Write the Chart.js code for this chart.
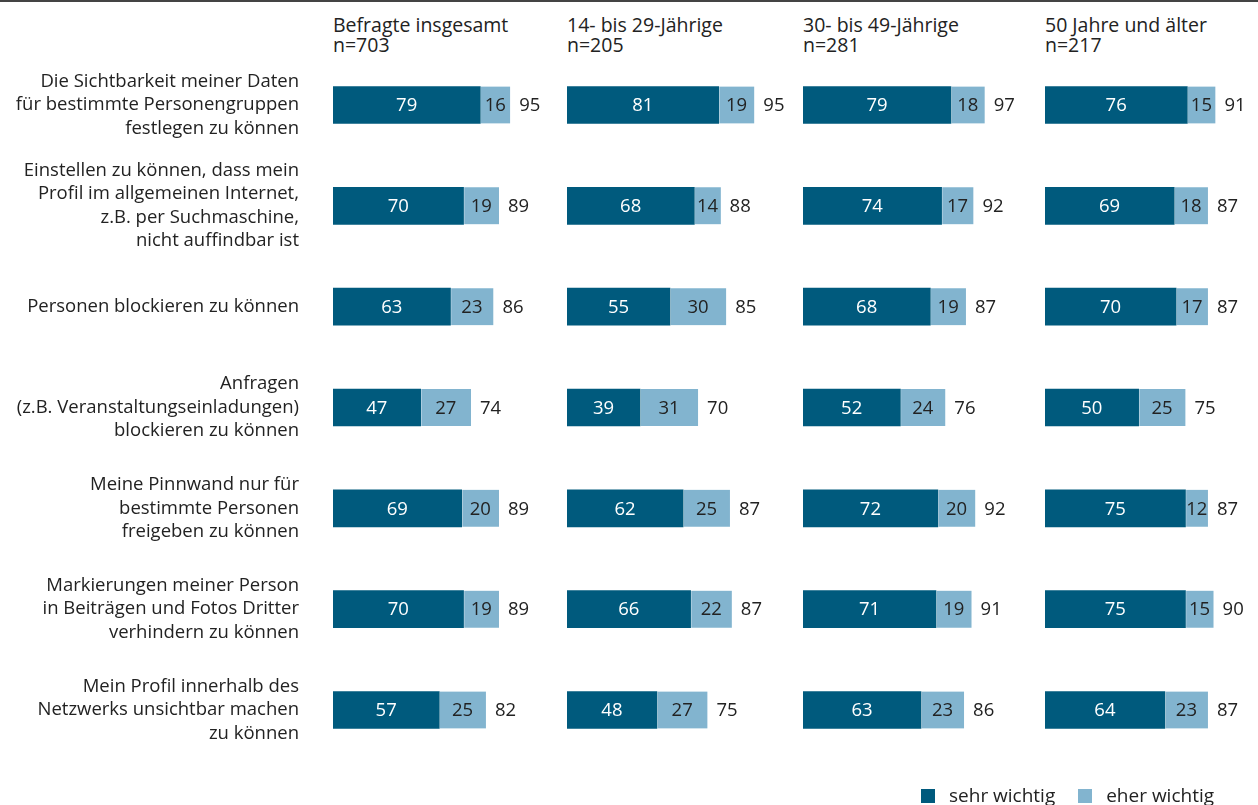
<!DOCTYPE html>
<html lang="de">
<head>
<meta charset="utf-8">
<title>Privatsphäre-Einstellungen in sozialen Netzwerken</title>
<script src="https://cdn.jsdelivr.net/npm/chart.js@4.4.1/dist/chart.umd.min.js"></script>
<style>
    html, body {
        margin: 0;
        padding: 0;
        background: #fff;
        overflow: hidden;
    }
    body {
        width: 1258px;
        height: 805px;
        position: relative;
        font-family: "Open Sans", sans-serif;
        color: #222;
        border-top: 2px solid #444;
        box-sizing: border-box;
    }
    .panel {
        position: absolute;
        top: 0;
        height: 803px;
    }
    .head {
        position: absolute;
        top: 13px;
        font-size: 19.5px;
        line-height: 20px;
        white-space: nowrap;
    }
    .legend {
        position: absolute;
        top: 782px;
        left: 921px;
        font-size: 19px;
        line-height: 22px;
        white-space: nowrap;
    }
    .legend span.box {
        display: inline-block;
        width: 14px;
        height: 14px;
        vertical-align: -1px;
        margin-right: 14px;
    }
    .legend span.item { margin-right: 18px; }
</style>
</head>
<body>

<div class="head" style="left:333px">Befragte insgesamt<br>n=703</div>
<div class="head" style="left:567px">14- bis 29-Jährige<br>n=205</div>
<div class="head" style="left:803px">30- bis 49-Jährige<br>n=281</div>
<div class="head" style="left:1045px">50 Jahre und älter<br>n=217</div>

<div class="panel" style="left:0;width:568px"><canvas id="chart0"></canvas></div>
<div class="panel" style="left:567px;width:236px"><canvas id="chart1"></canvas></div>
<div class="panel" style="left:803px;width:236px"><canvas id="chart2"></canvas></div>
<div class="panel" style="left:1045px;width:236px"><canvas id="chart3"></canvas></div>

<div class="legend">
    <span class="item"><span class="box" style="background:#005a7d"></span>sehr wichtig</span>
    <span><span class="box" style="background:#82b4cf"></span>eher wichtig</span>
</div>

<script>
// Kategorien (mehrzeilig)
const categories = [
    ['Die Sichtbarkeit meiner Daten', 'für bestimmte Personengruppen', 'festlegen zu können'],
    ['Einstellen zu können, dass mein', 'Profil im allgemeinen Internet,', 'z.B. per Suchmaschine,', 'nicht auffindbar ist'],
    ['Personen blockieren zu können'],
    ['Anfragen', '(z.B. Veranstaltungseinladungen)', 'blockieren zu können'],
    ['Meine Pinnwand nur für', 'bestimmte Personen', 'freigeben zu können'],
    ['Markierungen meiner Person', 'in Beiträgen und Fotos Dritter', 'verhindern zu können'],
    ['Mein Profil innerhalb des', 'Netzwerks unsichtbar machen', 'zu können']
];

// Befragte insgesamt
const sehrGesamt = [79, 70, 63, 47, 69, 70, 57];
const eherGesamt = [16, 19, 23, 27, 20, 19, 25];
const summeGesamt = [95, 89, 86, 74, 89, 89, 82];

// 14- bis 29-Jährige
const sehr14 = [81, 68, 55, 39, 62, 66, 48];
const eher14 = [19, 14, 30, 31, 25, 22, 27];
const summe14 = [95, 88, 85, 70, 87, 87, 75];

// 30- bis 49-Jährige
const sehr30 = [79, 74, 68, 52, 72, 71, 63];
const eher30 = [18, 17, 19, 24, 20, 19, 23];
const summe30 = [97, 92, 87, 76, 92, 91, 86];

// 50 Jahre und älter
const sehr50 = [76, 69, 70, 50, 75, 75, 64];
const eher50 = [15, 18, 17, 25, 12, 15, 23];
const summe50 = [91, 87, 87, 75, 87, 90, 87];

const DARK = '#005a7d';
const LIGHT = '#82b4cf';
const TEXT = '#222';
const FONT = '"Open Sans", sans-serif';

// Werte in den Balken und Summe rechts daneben
const valueLabels = {
    id: 'valueLabels',
    afterDatasetsDraw(chart, args, opts) {
        const ctx = chart.ctx;
        ctx.save();
        ctx.font = '18.5px ' + FONT;
        ctx.textBaseline = 'middle';
        chart.data.datasets.forEach((ds, di) => {
            const meta = chart.getDatasetMeta(di);
            meta.data.forEach((bar, i) => {
                const mid = (bar.x + bar.base) / 2;
                ctx.textAlign = 'center';
                ctx.fillStyle = di === 0 ? '#fff' : TEXT;
                ctx.fillText(ds.data[i], mid, bar.y + 1);
                if (di === chart.data.datasets.length - 1) {
                    ctx.textAlign = 'left';
                    ctx.fillStyle = TEXT;
                    ctx.fillText(opts.totals[i], bar.x + 9, bar.y + 1);
                }
            });
        });
        ctx.restore();
    }
};

// Kategorietexte links, rechtsbündig, an der Kategorieachse ausgerichtet
const categoryLabels = {
    id: 'categoryLabels',
    afterDraw(chart, args, opts) {
        if (!opts.show) return;
        const ctx = chart.ctx;
        const yScale = chart.scales.y;
        const lineH = 23.4;
        ctx.save();
        ctx.font = '18.5px ' + FONT;
        ctx.fillStyle = TEXT;
        ctx.textAlign = 'right';
        ctx.textBaseline = 'middle';
        chart.data.labels.forEach((lines, i) => {
            const cy = yScale.getPixelForValue(i);
            const y0 = cy - (lines.length - 1) * lineH / 2;
            lines.forEach((line, k) => {
                ctx.fillText(line, chart.chartArea.left - 34, y0 + k * lineH);
            });
        });
        ctx.restore();
    }
};

function makeChart(id, sehr, eher, totals, showLabels) {
    return new Chart(document.getElementById(id), {
        type: 'bar',
        data: {
            labels: categories,
            datasets: [{
                label: 'sehr wichtig',
                data: sehr,
                backgroundColor: DARK,
                borderWidth: 0
            }, {
                label: 'eher wichtig',
                data: eher,
                backgroundColor: LIGHT,
                borderColor: '#fff',
                borderSkipped: false,
                borderWidth: { left: 1, right: 0, top: 0, bottom: 0 }
            }]
        },
        plugins: [valueLabels, categoryLabels],
        options: {
            indexAxis: 'y',
            responsive: true,
            maintainAspectRatio: false,
            animation: false,
            barThickness: 37,
            layout: {
                padding: { top: 52.6, bottom: 44.6, left: showLabels ? 333 : 0, right: 0 }
            },
            plugins: {
                legend: { display: false },
                tooltip: { enabled: false },
                valueLabels: { totals: totals },
                categoryLabels: { show: showLabels }
            },
            scales: {
                x: {
                    stacked: true,
                    display: false,
                    min: 0,
                    max: 126
                },
                y: {
                    stacked: true,
                    display: false
                }
            }
        }
    });
}

makeChart('chart0', sehrGesamt, eherGesamt, summeGesamt, true);
makeChart('chart1', sehr14, eher14, summe14, false);
makeChart('chart2', sehr30, eher30, summe30, false);
makeChart('chart3', sehr50, eher50, summe50, false);
</script>
</body>
</html>
